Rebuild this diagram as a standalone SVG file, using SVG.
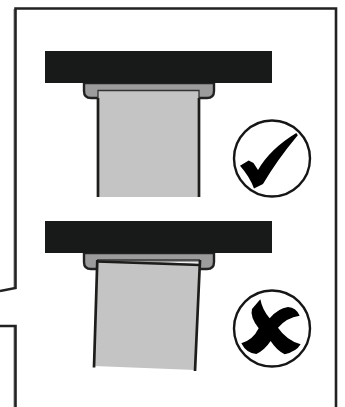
<svg xmlns="http://www.w3.org/2000/svg" width="345" height="407" viewBox="0 0 345 407">
<style>
.bar{fill:#181a19}
.holder{fill:#9c9c9c;stroke:#222;stroke-width:2.400}
.paper{fill:#c4c4c4}
.edge{fill:none;stroke:#1d1d1b;stroke-width:2.700}
.thin{fill:none;stroke:#333;stroke-width:1.300}
.ring{fill:#fff;stroke:#161616;stroke-width:2.400}
.mark{fill:#000}
.outer{fill:none;stroke:#222;stroke-width:2.600}
.halo{fill:none;stroke:#999;stroke-width:1.200}
</style>
<rect width="345" height="407" fill="#fff"/>
<g id="frame">
<path class="halo" d="M14 9V287M14 327V407"/>
<path class="outer" d="M0 291L15.500 288V8.500H336V407M0 326H15.500V407"/>
</g>
<g id="good">
<path class="holder" d="M84 83V91Q84 98 91 98H207Q214 98 214 91V83Z"/>
<rect class="bar" x="45" y="51" width="227" height="32"/>
<rect class="paper" x="98" y="90.500" width="101" height="106.500"/>
<path class="thin" d="M98 98V90.500H199V98"/>
<path class="edge" d="M98 98V197M199 98V197"/>
<circle class="ring" cx="272" cy="158.500" r="38"/>
<path class="mark" d="M240 165.700L248.700 160.500L253.500 163L258 170Q270 149 296.300 133L297.800 135.200Q277 160 263 184L254 188.500Q249.700 176.700 240 165.700Z"/>
</g>
<g id="bad">
<path class="holder" d="M84 253V262Q84 269 91 269H207Q214 269 214 262V253Z"/>
<rect class="bar" x="45" y="221" width="227" height="32"/>
<path d="M160 262L199 262.200V264Z" fill="#fff"/>
<path class="paper" d="M97 261L200 265L195 370L94 366Z"/>
<path class="thin" d="M97 260H200"/>
<path class="edge" d="M97 261.500L200 265"/>
<path class="edge" d="M94 367.500L97.300 260M195 371L200 260"/>
<circle class="ring" cx="272" cy="328.500" r="38"/>
<path class="mark" transform="translate(228 285) scale(.3333)" d="M97 43Q103 75 125 100Q150 70 180 66Q205 68 215 92Q175 98 150 128Q175 165 218 178Q205 200 170 208Q145 195 128 168Q110 195 85 207Q55 205 40 175Q75 165 92 130Q65 95 72 72Z"/>
</g>
</svg>
